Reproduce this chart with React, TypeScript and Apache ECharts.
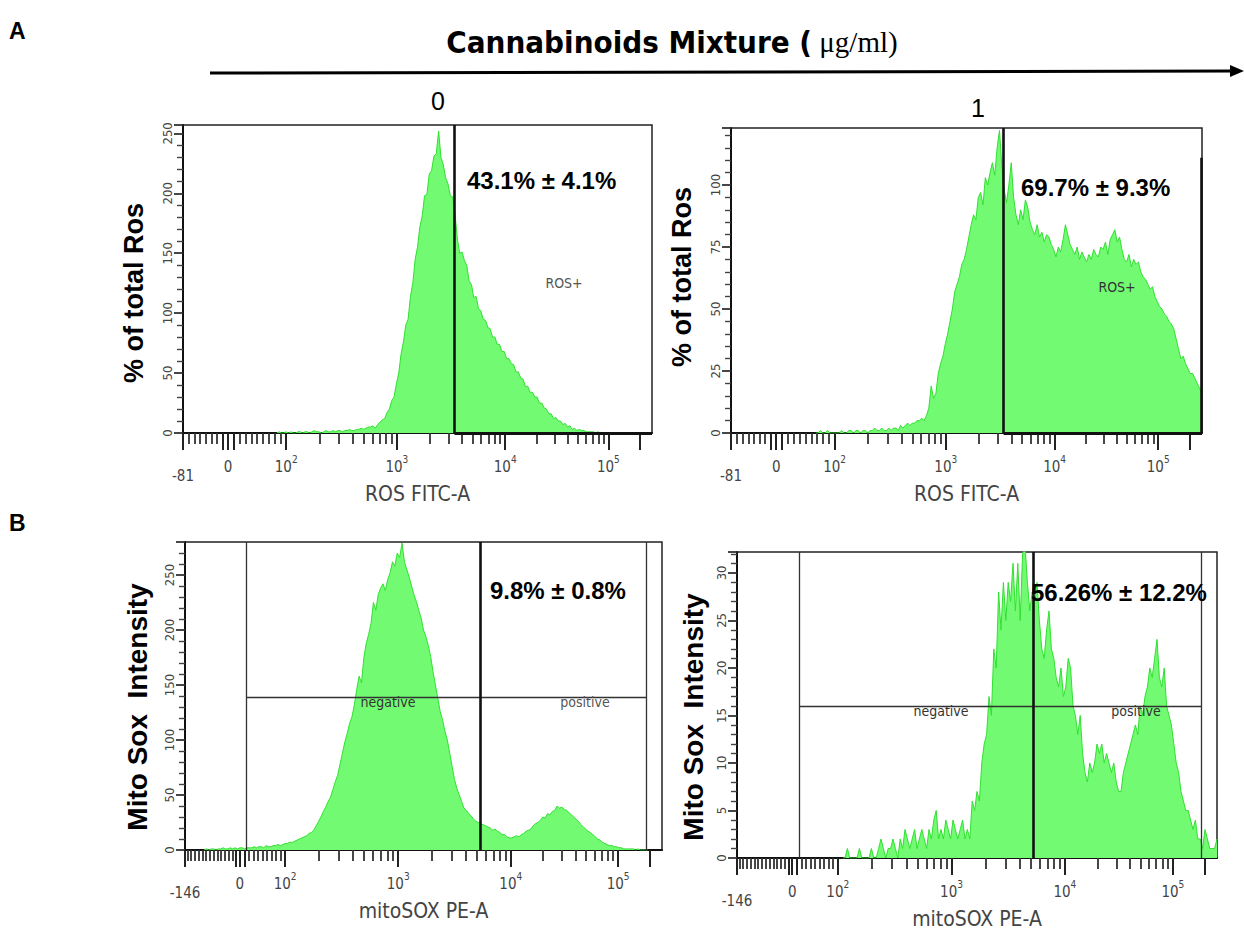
import React, { useEffect, useRef } from 'react';
import * as echarts from 'echarts';

// ---------- data (display channels 0..1000, counts per 5-channel bin) ----------
const BIN = 5;

// A, 0 µg/ml : ROS FITC-A
const rosCtrlStart = 200;
const rosCtrlCounts = [
  0, 1, 0, 0, 1, 0, 1, 0, 0, 1,
  1, 0, 1, 1, 0, 1, 2, 1, 1, 0,
  1, 2, 1, 1, 2, 1, 2, 2, 1, 2,
  2, 3, 2, 2, 3, 3, 4, 3, 4, 5,
  5, 6, 4, 7, 9, 11, 12, 17, 20, 27,
  30, 41, 50, 66, 76, 90, 95, 114, 125, 145,
  155, 172, 181, 198, 199, 216, 219, 231, 233, 252,
  230, 224, 213, 208, 198, 197, 183, 162, 150, 151,
  144, 140, 127, 124, 113, 114, 104, 102, 95, 94,
  88, 87, 80, 80, 74, 74, 68, 68, 62, 62,
  58, 57, 51, 51, 46, 45, 39, 39, 34, 34,
  30, 30, 25, 25, 21, 20, 16, 16, 12, 13,
  10, 10, 7, 8, 5, 6, 3, 4, 2, 3,
  2, 2, 1, 1, 1, 1, 0, 1, 0, 0, 0,
];

// A, 1 µg/ml : ROS FITC-A
const rosTreatStart = 180;
const rosTreatCounts = [
  0, 0, 1, 0, 0, 1, 0, 0, 0, 0,
  0, 1, 0, 0, 1, 1, 0, 1, 1, 0,
  1, 1, 0, 1, 1, 2, 1, 1, 2, 1,
  1, 2, 1, 2, 2, 1, 3, 2, 3, 4,
  3, 4, 4, 5, 5, 6, 5, 7, 10, 19,
  14, 16, 24, 28, 31, 36, 40, 45, 50, 57,
  60, 63, 68, 70, 74, 79, 84, 88, 86, 95,
  97, 92, 103, 100, 105, 109, 104, 115, 122, 108,
  98, 93, 100, 109, 95, 88, 84, 90, 86, 94,
  91, 85, 82, 80, 84, 79, 81, 77, 80, 79,
  76, 74, 71, 75, 73, 78, 84, 80, 76, 74,
  72, 75, 70, 73, 71, 69, 72, 70, 74, 72,
  71, 75, 74, 77, 72, 78, 80, 82, 77, 79,
  74, 70, 69, 72, 67, 70, 68, 69, 65, 63,
  62, 60, 58, 59, 55, 53, 51, 50, 48, 47,
  45, 44, 42, 38, 34, 30, 31, 28, 26, 24,
  24, 22, 20, 18, 16,
];

// B, 0 µg/ml : mitoSOX PE-A
const mitoCtrlStart = 40;
const mitoCtrlCounts = [
  0, 1, 0, 1, 1, 0, 1, 1, 2, 1,
  1, 2, 1, 2, 1, 2, 2, 1, 2, 2,
  2, 3, 2, 3, 3, 2, 4, 3, 3, 4,
  4, 5, 4, 5, 6, 6, 7, 7, 8, 9,
  10, 11, 12, 13, 15, 16, 18, 22, 26, 30,
  35, 39, 44, 48, 55, 62, 68, 78, 88, 98,
  106, 115, 121, 132, 146, 158, 152, 175, 188, 196,
  206, 225, 218, 232, 238, 242, 236, 246, 252, 262,
  258, 270, 266, 279, 262, 255, 248, 240, 232, 226,
  218, 211, 200, 194, 186, 176, 162, 150, 138, 126,
  118, 108, 100, 88, 76, 64, 56, 50, 44, 38,
  36, 33, 31, 28, 26, 25, 24, 23, 22, 21,
  20, 18, 19, 17, 16, 14, 14, 12, 11, 11,
  12, 13, 12, 14, 15, 17, 18, 19, 22, 24,
  25, 27, 30, 29, 33, 32, 35, 36, 40, 38,
  39, 37, 36, 34, 32, 30, 28, 26, 23, 21,
  19, 17, 16, 14, 12, 10, 9, 7, 6, 5,
  4, 4, 3, 3, 2, 2, 1, 1, 1, 1,
  1, 0, 1, 0, 0, 0, 0,
];

// B, 1 µg/ml : mitoSOX PE-A
const mitoTreatStart = 220;
const mitoTreatCounts = [
  0, 0, 1, 0, 0, 0, 0, 1, 0, 0,
  0, 0, 1, 0, 0, 1, 2, 1, 0, 1,
  1, 2, 1, 0, 2, 1, 3, 2, 1, 2,
  3, 1, 2, 3, 2, 1, 3, 2, 4, 5,
  2, 3, 2, 4, 3, 2, 4, 3, 2, 3,
  4, 2, 3, 2, 6, 5, 7, 6, 10, 12,
  13, 17, 15, 22, 20, 28, 24, 29, 25, 29,
  27, 31, 26, 31, 25, 32, 33, 29, 26, 28,
  27, 29, 25, 22, 21, 24, 26, 22, 21, 19,
  18, 20, 17, 18, 21, 20, 16, 15, 13, 15,
  11, 9, 8, 10, 9, 10, 12, 11, 12, 10,
  11, 10, 9, 10, 8, 7, 7, 9, 10, 11,
  12, 13, 14, 13, 16, 15, 17, 18, 20, 19,
  21, 23, 19, 18, 20, 16, 15, 14, 12, 10,
  9, 7, 6, 5, 5, 4, 3, 4, 2, 2,
  1, 3, 2, 1, 1, 1, 2,
];

// axis tick labels (real fluorescence values)
const rosTickValues = [-81, 0, 100, 1000, 10000, 100000];
const mitoTickValues = [-146, 0, 100, 1000, 10000, 100000];
// display transform anchors: [value, channel]
const rosAnchors = [[-81, 0], [0, 96], [100, 220], [1000, 456], [10000, 687], [100000, 907], [262144, 1000]];
const mitoAnchors = [[-146, 0], [0, 115], [100, 210], [1000, 447], [10000, 683], [100000, 908], [262144, 1000]];

// gates
const rosGate = 3400;
const mitoGateMid = 5300;
const mitoGateLow = 15;
const mitoGateHigh = 185000;
const mitoThresholdCtrl = 139;
const mitoThresholdTreat = 16;

const yMaxes = [257, 123, 280, 32.2];
const yIntervals = [50, 25, 50, 5];
const annotations = ['43.1% ± 4.1%', '69.7% ± 9.3%', '9.8% ± 0.8%', '56.26% ± 12.2%'];

// ---------- helpers ----------
const FONT_NARROW = "'Liberation Sans Narrow', 'Arial Narrow', 'DejaVu Sans Condensed', 'Liberation Sans', sans-serif";
const FONT_SANS = "'Liberation Sans', Arial, sans-serif";

function toChannel(v: number, anchors: number[][]): number {
  for (let k = 0; k < anchors.length - 1; k++) {
    const [v0, c0] = anchors[k];
    const [v1, c1] = anchors[k + 1];
    if (v <= v1 || k === anchors.length - 2) {
      if (v0 >= 100) {
        const t = (Math.log10(v) - Math.log10(v0)) / (Math.log10(v1) - Math.log10(v0));
        return c0 + t * (c1 - c0);
      }
      return c0 + ((v - v0) / (v1 - v0)) * (c1 - c0);
    }
  }
  return 0;
}

function labelText(v: number): string {
  if (v < 0) return `{low|${v}}`;
  if (v === 0) return '{b|0}';
  const e = Math.round(Math.log10(v));
  return `{b|10}{s|${e}}`;
}

function axisTicks(tickValues: number[], anchors: number[][]) {
  const lo = tickValues[0];
  const labelCh = tickValues.map((v) => toChannel(v, anchors));
  const majorVals = [...tickValues, -10, 10, 200000].sort((a, b) => a - b);
  const majorCh = majorVals.map((v) => toChannel(v, anchors));
  const minorVals: number[] = [];
  for (let v = Math.ceil(lo / 10) * 10; v < 100; v += 10) {
    if (v !== 0 && v !== -10 && v !== 10 && v > lo + 4) minorVals.push(v);
  }
  for (let d = 2; d <= 4; d++) for (let k = 2; k <= 9; k++) minorVals.push(k * Math.pow(10, d));
  minorVals.sort((a, b) => a - b);
  const minorCh = minorVals.map((v) => toChannel(v, anchors));
  return { labelCh, majorCh, minorCh };
}

const toPairs = (start: number, counts: number[]) => counts.map((c, i) => [start + i * BIN, c]);

// ---------- layout ----------
const layouts = [
  { left: 183, top: 125, width: 469, height: 308 },
  { left: 731, top: 128, width: 471, height: 305 },
  { left: 185, top: 542, width: 477, height: 308 },
  { left: 737, top: 552, width: 480, height: 306 },
];

export default function App() {
  const ref = useRef<HTMLDivElement>(null);

  useEffect(() => {
    if (!ref.current) return;
    const chart = echarts.init(ref.current, undefined, { renderer: 'svg' });

    const isRos = [true, true, false, false];
    const names = ['ROS FITC-A', 'ROS FITC-A', 'mitoSOX PE-A', 'mitoSOX PE-A'];
    const dataSets = [
      toPairs(rosCtrlStart, rosCtrlCounts),
      toPairs(rosTreatStart, rosTreatCounts),
      toPairs(mitoCtrlStart, mitoCtrlCounts),
      toPairs(mitoTreatStart, mitoTreatCounts),
    ];

    const labelStyle = { color: '#444', fontFamily: FONT_NARROW };
    const rich = {
      b: { ...labelStyle, fontSize: 15, lineHeight: 20, verticalAlign: 'bottom' },
      s: { ...labelStyle, fontSize: 10, lineHeight: 10, verticalAlign: 'top' },
      low: { ...labelStyle, fontSize: 15, lineHeight: 15, padding: [28, 0, 0, 0] },
    };

    const grids: any[] = [];
    const xAxes: any[] = [];
    const yAxes: any[] = [];
    const series: any[] = [];

    for (let i = 0; i < 4; i++) {
      const L = layouts[i];
      const anchors = isRos[i] ? rosAnchors : mitoAnchors;
      const tv = isRos[i] ? rosTickValues : mitoTickValues;
      const { labelCh, majorCh, minorCh } = axisTicks(tv, anchors);
      const ymax = yMaxes[i];

      grids.push({
        ...L,
        show: true,
        borderColor: '#222',
        borderWidth: 1.5,
        backgroundColor: '#fff',
      });

      xAxes.push({
        gridIndex: i,
        type: 'value',
        position: 'bottom',
        min: 0,
        max: 1000,
        axisLine: { show: true, onZero: false, lineStyle: { color: '#111', width: 2 } },
        axisTick: { show: true, customValues: majorCh, length: 17, lineStyle: { color: '#222', width: 2 } },
        axisLabel: {
          show: true,
          customValues: labelCh,
          margin: 21,
          formatter: (val: number) => {
            let best = 0;
            for (let k = 1; k < labelCh.length; k++) {
              if (Math.abs(labelCh[k] - val) < Math.abs(labelCh[best] - val)) best = k;
            }
            return labelText(tv[best]);
          },
          rich,
          ...labelStyle,
        },
        splitLine: { show: false },
        name: names[i],
        nameLocation: 'middle',
        nameGap: 50,
        nameTextStyle: { fontSize: 21, color: '#444', fontFamily: FONT_NARROW },
      });
      xAxes.push({
        gridIndex: i,
        type: 'value',
        position: 'bottom',
        offset: 0,
        min: 0,
        max: 1000,
        axisLine: { show: false, onZero: false },
        axisTick: { show: true, inside: false, customValues: minorCh, length: 11, lineStyle: { color: '#333', width: 1.8 } },
        axisLabel: { show: false },
        splitLine: { show: false },
      });

      yAxes.push({
        gridIndex: i,
        type: 'value',
        min: 0,
        max: ymax,
        interval: yIntervals[i],
        axisLine: { show: true, lineStyle: { color: '#111', width: 2 } },
        axisTick: { show: true, length: 9, lineStyle: { color: '#333', width: 1.8 } },
        minorTick: { show: true, splitNumber: 5, length: 6, lineStyle: { color: '#444', width: 1.4 } },
        axisLabel: { rotate: 90, fontSize: 13, color: '#444', margin: 9, showMaxLabel: false, fontFamily: FONT_NARROW },
        splitLine: { show: false },
        minorSplitLine: { show: false },
      });

      const thick = { color: '#111', width: 2.6, type: 'solid' };
      const thin = { color: '#333', width: 1.3, type: 'solid' };
      let lines: any[] = [];
      if (isRos[i]) {
        const g = toChannel(rosGate, anchors);
        lines = [
          [{ coord: [g, 0], lineStyle: thick }, { coord: [g, ymax] }],
          [{ coord: [g, 0], lineStyle: { ...thick, width: 3 } }, { coord: [1000, 0] }],
        ];
        if (i === 1) lines.push([{ coord: [999, 0], lineStyle: thick }, { coord: [999, 111] }]);
      } else {
        const gl = toChannel(mitoGateLow, anchors);
        const gm = toChannel(mitoGateMid, anchors);
        const gh = toChannel(mitoGateHigh, anchors);
        const th = i === 2 ? mitoThresholdCtrl : mitoThresholdTreat;
        lines = [
          [{ coord: [gl, 0], lineStyle: thin }, { coord: [gl, ymax] }],
          [{ coord: [gh, 0], lineStyle: thin }, { coord: [gh, ymax] }],
          [{ coord: [gl, th], lineStyle: thin }, { coord: [gh, th] }],
          [{ coord: [gm, 0], lineStyle: thick }, { coord: [gm, ymax] }],
        ];
      }

      series.push({
        type: 'line',
        xAxisIndex: i * 2,
        yAxisIndex: i,
        data: dataSets[i],
        symbol: 'none',
        lineStyle: { color: '#30e030', width: 1 },
        areaStyle: { color: '#72fa72', opacity: 1 },
        silent: true,
        z: 2,
        markLine: {
          silent: true,
          symbol: ['none', 'none'],
          label: { show: false },
          emphasis: { disabled: true },
          data: lines,
        },
      });
    }

    const txt = (x: number, y: number, text: string, style: any, extra: any = {}) => ({
      type: 'text',
      x,
      y,
      z: 100,
      ...extra,
      style: { text, fill: '#000', align: 'left', verticalAlign: 'middle', ...style },
    });

    const bold = { fontFamily: FONT_SANS, fontWeight: 'bold' };

    const graphic: any[] = [
      txt(9, 31, 'A', { ...bold, fontSize: 23 }),
      txt(9, 523, 'B', { ...bold, fontSize: 23 }),
      txt(672, 42, '{a|Cannabinoids Mixture (}{b| μg/ml)}', {
        align: 'center',
        rich: {
          a: { fontFamily: FONT_NARROW, fontWeight: 'bold', fontSize: 31, fill: '#000' },
          b: { fontFamily: "'Liberation Serif', 'Times New Roman', serif", fontSize: 29, fill: '#000' },
        },
      }),
      { type: 'line', z: 100, shape: { x1: 210, y1: 73, x2: 1234, y2: 71 }, style: { stroke: '#000', lineWidth: 3 } },
      { type: 'polygon', z: 100, shape: { points: [[1230, 65], [1244, 71], [1230, 77]] }, style: { fill: '#000' } },
      txt(438, 101, '0', { fontFamily: FONT_SANS, fontSize: 25, align: 'center' }),
      txt(978, 108, '1', { fontFamily: FONT_SANS, fontSize: 25, align: 'center' }),
      // y-axis names
      txt(134, 293, '% of total Ros', { ...bold, fontSize: 27, align: 'center' }, { rotation: Math.PI / 2 }),
      txt(682, 277, '% of total Ros', { ...bold, fontSize: 27, align: 'center' }, { rotation: Math.PI / 2 }),
      txt(137, 707, 'Mito Sox  Intensity', { ...bold, fontSize: 28, align: 'center' }, { rotation: Math.PI / 2 }),
      txt(693, 717, 'Mito Sox  Intensity', { ...bold, fontSize: 28, align: 'center' }, { rotation: Math.PI / 2 }),
      // percentages
      txt(467, 180, annotations[0], { ...bold, fontSize: 24 }),
      txt(1021, 187, annotations[1], { ...bold, fontSize: 24 }),
      txt(490, 590, annotations[2], { ...bold, fontSize: 24 }),
      txt(1031, 592, annotations[3], { ...bold, fontSize: 24 }),
      // gate labels
      txt(564, 283, 'ROS+', { fontFamily: FONT_NARROW, fontSize: 14, fill: '#555', align: 'center' }),
      txt(1117, 287, 'ROS+', { fontFamily: FONT_NARROW, fontSize: 14, fill: '#333', align: 'center' }),
      txt(388, 702, 'negative', { fontFamily: FONT_NARROW, fontSize: 14, fill: '#333', align: 'center' }),
      txt(585, 702, 'positive', { fontFamily: FONT_NARROW, fontSize: 14, fill: '#555', align: 'center' }),
      txt(941, 711, 'negative', { fontFamily: FONT_NARROW, fontSize: 14, fill: '#333', align: 'center' }),
      txt(1136, 711, 'positive', { fontFamily: FONT_NARROW, fontSize: 14, fill: '#333', align: 'center' }),
    ];

    chart.setOption({
      animation: false,
      backgroundColor: '#fff',
      grid: grids,
      xAxis: xAxes,
      yAxis: yAxes,
      series,
      graphic,
    });

    return () => chart.dispose();
  }, []);

  return (
    <div
      ref={ref}
      style={{ position: 'absolute', left: 0, top: 0, width: '1244px', height: '931px', background: '#fff' }}
    />
  );
}
